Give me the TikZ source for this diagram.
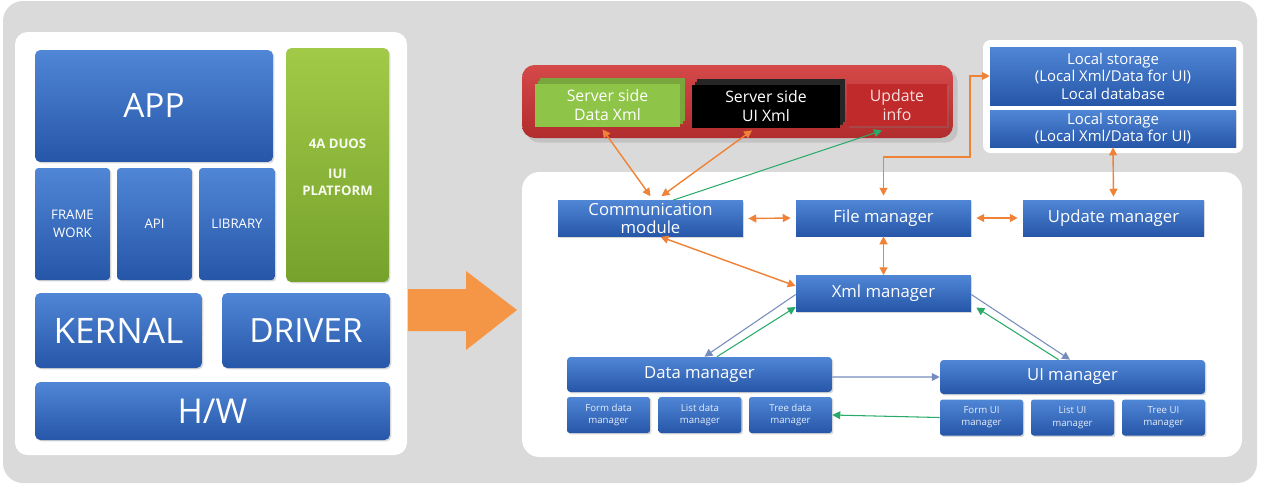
\documentclass[tikz,border=0pt]{standalone}
\usepackage{fontspec}
\setmainfont{Open Sans}
\usetikzlibrary{arrows.meta, positioning, shadows}

\definecolor{bgray}{RGB}{218,218,218}
\definecolor{blktop}{RGB}{80,134,214}
\definecolor{blkbot}{RGB}{38,86,168}
\definecolor{duostop}{RGB}{162,202,72}
\definecolor{duosbot}{RGB}{118,162,44}
\definecolor{srvred}{RGB}{208,52,52}
\definecolor{updred}{RGB}{192,42,42}
\definecolor{xmlgreen}{RGB}{142,196,72}
\definecolor{lnorange}{RGB}{240,130,55}
\definecolor{bigorange}{RGB}{245,150,70}
\definecolor{lngreen}{RGB}{40,170,105}
\definecolor{lnblue}{RGB}{118,140,190}

\newcommand{\fs}[2]{\fontsize{#1}{#2}\selectfont}

\begin{document}
\begin{tikzpicture}[x=0.02cm, y=-0.02cm,
        >={Triangle[length=4.5pt,width=4.5pt]},
        blk/.style = {rectangle, top color=blktop, bottom color=blkbot, text=white, align=center, inner sep=1pt,
                      drop shadow={opacity=0.3, shadow xshift=0.8pt, shadow yshift=-0.8pt}},
        mgr/.style = {blk, minimum height=0.72cm, font=\fs{9.5}{10.5}},
        sub/.style = {blk, rounded corners=1.5pt, minimum width=1.66cm, minimum height=0.72cm, font=\fs{5.5}{7}, text=white!85!blktop},
        paper/.style = {rectangle, minimum height=0.86cm, text=white, align=center, font=\fs{9}{10.5}},
        flow/.style = {draw=lnorange, line width=0.8pt},
        back/.style = {draw=lngreen, line width=0.6pt},
        call/.style = {draw=lnblue, line width=0.6pt},
      ]
      \useasboundingbox (0,0) rectangle (1265,485);
      \fill[bgray, rounded corners=0.4cm] (3,1) rectangle (1257,483);

      % platform stack
      \fill[white, rounded corners=0.25cm] (15,32) rectangle (407,455);
      \node[blk, rounded corners=3pt, minimum width=4.76cm, minimum height=2.24cm, font=\fs{19}{21}] (app) at (154,106) {APP};
      \node[blk, rounded corners=2pt, minimum width=1.5cm, minimum height=2.24cm, font=\fs{7.5}{10.5}] (fw) at (72.5,224) {FRAME\\WORK};
      \node[blk, rounded corners=2pt, minimum width=1.5cm, minimum height=2.24cm, font=\fs{7.5}{10}] (api) at (154.5,224) {API};
      \node[blk, rounded corners=2pt, minimum width=1.52cm, minimum height=2.24cm, font=\fs{7.5}{10}] (lib) at (237,224) {LIBRARY};
      \node[rectangle, rounded corners=3pt, top color=duostop, bottom color=duosbot, minimum width=2.06cm, minimum height=4.68cm,
            drop shadow={opacity=0.3, shadow xshift=0.8pt, shadow yshift=-0.8pt},
            label={[anchor=north, yshift=-1.7cm, text=white!92!duostop, font=\bfseries\fs{7.5}{10}, align=center]90:{4A DUOS\\[7pt]IUI\\PLATFORM}}] (duos) at (337.5,165) {};
      \node[blk, rounded corners=3pt, minimum width=3.34cm, minimum height=1.5cm, font=\fs{20}{22}] (kern) at (118.5,330.5) {KERNAL};
      \node[blk, rounded corners=3pt, minimum width=3.36cm, minimum height=1.5cm, font=\fs{19}{22}] (drv) at (306,330.5) {DRIVER};
      \node[blk, rounded corners=3pt, minimum width=7.1cm, minimum height=1.16cm, font=\fs{19.5}{21}] (hw) at (212.5,411) {H/W};

      % big arrow
      \fill[bigorange] (408,289) -- (466,289) -- (466,271) -- (517,310) -- (466,350) -- (466,331) -- (408,331) -- cycle;

      % server side
      \node[rectangle, rounded corners=0.25cm, top color=srvred!90!white, bottom color=srvred!85!black, minimum width=8.62cm, minimum height=1.46cm,
            drop shadow={opacity=0.25}] (srv) at (737.5,101.5) {};
      \node[paper, fill=xmlgreen, minimum width=2.9cm, double copy shadow={shadow xshift=1.5pt, shadow yshift=1.5pt, fill=xmlgreen!85!black, draw=none}] (sdx) at (607.5,105) {Server side\\Data Xml};
      \node[paper, fill=black, minimum width=2.96cm, double copy shadow={shadow xshift=1.5pt, shadow yshift=1.5pt, fill=black!85, draw=none}] (sux) at (766,106) {Server side\\UI Xml};
      \node[paper, fill=updred, minimum width=2cm, minimum height=0.72cm, text=white!85!srvred,
            drop shadow={opacity=0.3, shadow xshift=1pt, shadow yshift=-1pt}] (upd) at (897,105) {Update\\info};

      % local storage
      \fill[white, rounded corners=0.15cm] (983,40) rectangle (1243,153);
      \node[blk, minimum width=4.92cm, minimum height=1.16cm, font=\fs{8.5}{10}] (ls1) at (1113,76) {Local storage\\(Local Xml/Data for UI)\\Local database};
      \node[blk, minimum width=4.92cm, minimum height=0.74cm, font=\fs{8.5}{10}] (ls2) at (1113,128.5) {Local storage\\(Local Xml/Data for UI)};

      % client modules
      \fill[white, rounded corners=0.35cm] (522,172) rectangle (1242,457);
      \node[mgr, minimum width=3.7cm] (com) at (650.5,218.5) {Communication\\module};
      \node[mgr, minimum width=3.5cm] (fm) at (883.5,218) {File manager};
      \node[mgr, minimum width=3.62cm] (um) at (1113.5,218) {Update manager};
      \node[mgr, minimum width=3.5cm] (xm) at (883.5,293.5) {Xml manager};
      \node[mgr, rounded corners=2pt, minimum width=5.3cm, minimum height=0.7cm] (dm) at (699.5,374.5) {Data manager};
      \node[sub] (fdm) at (608.5,415) {Form data\\manager};
      \node[sub] (ldm) at (700,415) {List data\\manager};
      \node[sub] (tdm) at (790.5,415) {Tree data\\manager};
      \node[mgr, rounded corners=2pt, minimum width=5.3cm, minimum height=0.68cm] (uim) at (1072.5,377) {UI manager};
      \node[sub] (fum) at (981.5,417.5) {Form UI\\manager};
      \node[sub] (lum) at (1072.5,417.5) {List UI\\manager};
      \node[sub] (tum) at (1163.5,417.5) {Tree UI\\manager};

      % connectors
      \coordinate (bend) at (970,157);
      \draw[flow, <->] ([xshift=-0.1cm, yshift=-0.05cm]sdx.south) -- ([yshift=0.08cm]com.north);
      \draw[flow, <->] ([xshift=-0.28cm, yshift=-0.05cm]sux.south) -- ([xshift=0.22cm, yshift=0.08cm]com.north);
      \draw[back, ->] ([xshift=0.45cm]com.north) -- ([xshift=-0.3cm, yshift=-0.08cm]upd.south);
      \draw[flow, <->] ([yshift=0.08cm]fm.north) |- (bend) |- (ls1.west);
      \draw[flow, <->] ([xshift=0.1cm]com.east) -- ([xshift=-0.1cm]fm.west);
      \draw[flow, <->] ([xshift=0.1cm]fm.east) -- ([xshift=-0.1cm]um.west);
      \draw[flow, <->] (ls2.south) -- ([yshift=0.06cm]um.north);
      \draw[flow, <->] (fm.south) -- (xm.north);
      \draw[flow, <->] ([xshift=0.2cm]com.south) -- ([yshift=0.15cm]xm.west);
      \draw[call, ->] ([yshift=-0.02cm]xm.west) -- ([xshift=0.1cm]dm.north);
      \draw[back, ->] ([xshift=0.35cm]dm.north) -- ([yshift=-0.27cm]xm.west);
      \draw[call, ->] ([yshift=-0.02cm]xm.east) -- ([xshift=-0.05cm]uim.north);
      \draw[back, ->] ([xshift=-0.28cm]uim.north) -- ([xshift=0.1cm, yshift=-0.28cm]xm.east);
      \draw[call, ->] ([yshift=-0.05cm]dm.east) -- ([yshift=0.0cm]uim.west);
      \draw[back, ->] (fum.west) -- (tdm.east);
    \end{tikzpicture}
\end{document}
